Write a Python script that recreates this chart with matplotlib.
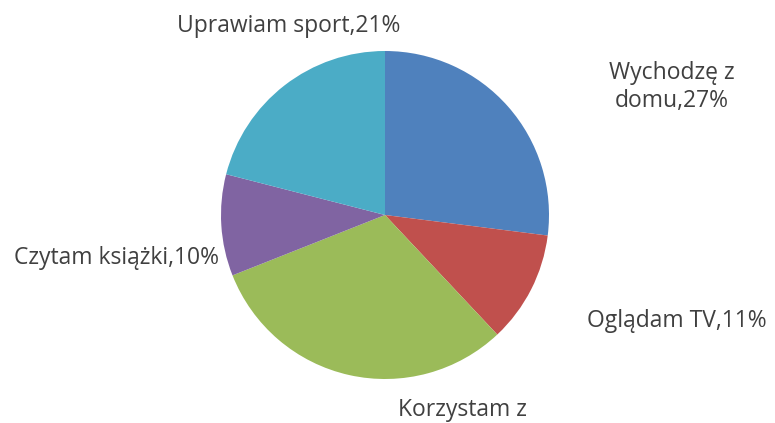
import matplotlib
matplotlib.use("Agg")
import matplotlib.pyplot as plt

# Slice data (clockwise from top)
labels = ["Wychodzę z\ndomu,27%", "Oglądam TV,11%", "Korzystam z", "Czytam książki,10%", "Uprawiam sport,21%"]
shares = [27, 11, 31, 10, 21]
colors = ["#4F81BD", "#C0504D", "#9BBB59", "#8064A2", "#4BACC6"]

# Label anchor points in pixel coords (x, y from top)
label_pos = [(672, 87), (677, 321), (462, 410), (116, 258), (289, 26)]

W, H = 775, 423
fig = plt.figure(figsize=(W / 100, H / 100), dpi=100)
ax = fig.add_axes([0, 0, 1, 1])

ax.pie(shares, colors=colors, startangle=90, counterclock=False,
       center=(385, H - 215), radius=164, frame=True,
       wedgeprops=dict(edgecolor="none"))
ax.set_xlim(0, W)
ax.set_ylim(0, H)
ax.set_aspect("equal")
ax.axis("off")

for lab, (x, y) in zip(labels, label_pos):
    ax.text(x, H - y, lab, ha="center", va="center",
            fontsize=16.5, color="#404040", family=["Open Sans", "DejaVu Sans"],
            linespacing=1.2)

fig.savefig("out.png", dpi=100)
